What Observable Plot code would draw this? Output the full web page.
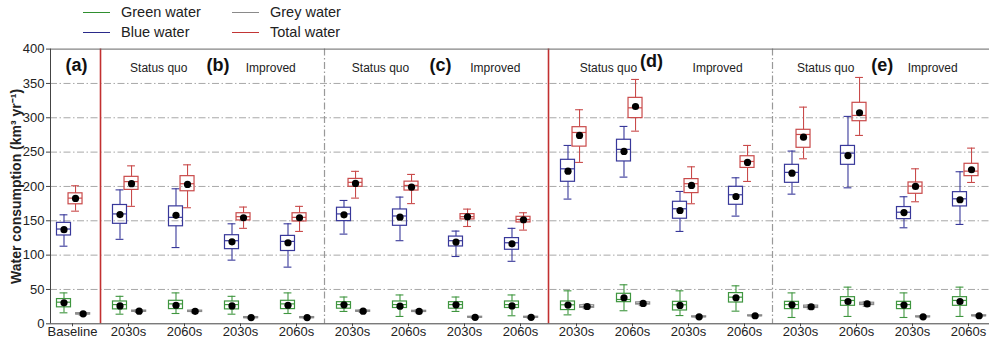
<!DOCTYPE html>
<html>
<head>
<meta charset="utf-8">
<script src="https://cdn.jsdelivr.net/npm/d3@7"></script>
<script src="https://cdn.jsdelivr.net/npm/@observablehq/plot@0.6"></script>
<style>
  body { margin: 0; background: #fff; font-family: "Liberation Sans", Arial, sans-serif; }
  #legend { position: relative; width: 989px; height: 40px; }
  .item { position: absolute; display: flex; align-items: center; height: 20px; font-size: 14.5px; color: #222; }
  .item .sw { width: 27px; height: 0; border-top: 1.5px solid; margin-right: 11px; }
  #chart svg { display: block; }
</style>
</head>
<body>
<div id="legend"></div>
<div id="chart"></div>
<script>
// Period labels along the x axis (baseline + 4 scenario panels)
const periods = ["Baseline",
  "2030s", "2060s", "2030s", "2060s",
  "2030s", "2060s", "2030s", "2060s",
  "2030s", "2060s", "2030s", "2060s",
  "2030s", "2060s", "2030s", "2060s"];

const panelTags = ["(a)", "(b)", "(c)", "(d)", "(e)"];
const scenarios = ["Status quo", "Improved"];
const yTicks = [0, 50, 100, 150, 200, 250, 300, 350, 400];

// Box statistics per period: [whisker low, Q1, median, Q3, whisker high, mean] (km3/yr)
const greenWater = [
  [16, 24, 31.5, 36, 45, 30.6],
  [14, 21, 28, 32.5, 40, 26],
  [15, 21.4, 29, 33.5, 45, 27],
  [14, 21, 28, 32.5, 40, 26],
  [15, 21.4, 29, 33.5, 45, 27],
  [18, 22, 28, 31.5, 39, 27.7],
  [10.7, 23, 28, 32.5, 42, 25.7],
  [18, 22, 28, 31.5, 39, 27.7],
  [11.7, 23, 28, 32.5, 42, 26],
  [13, 20, 27.7, 32.5, 48, 27.2],
  [19, 31.5, 35.4, 43.7, 56.8, 37.9],
  [12, 19.4, 27.7, 32, 48, 26.7],
  [18.4, 31, 38.8, 44.7, 55.3, 37.9],
  [9.2, 21.4, 28, 32, 45, 27.7],
  [10.7, 26.2, 34, 38.8, 53.4, 32.5],
  [9.2, 21.4, 28, 32, 45, 27.2],
  [10.7, 26.2, 34, 38.8, 53.4, 32.5]
];

const blueWater = [
  [113, 128.6, 138, 147, 158.7, 137],
  [123, 145.6, 160, 173, 195, 159],
  [111, 142, 155, 171, 196.6, 158],
  [92.7, 108.7, 121, 129, 145.6, 119.4],
  [82.5, 106, 120, 128, 145.6, 118],
  [130.6, 149.5, 160, 169, 179.6, 158.7],
  [121, 142.7, 157, 166.5, 184.5, 155.3],
  [98, 112.6, 121, 127, 135, 119],
  [91, 107.8, 118, 124.8, 139, 116.5],
  [181.6, 206.8, 225.7, 238.8, 259.7, 222.3],
  [213.6, 236.4, 254, 268, 287.4, 251],
  [134.5, 153, 167.5, 177.7, 192.7, 165],
  [156.8, 173.3, 187.9, 199.5, 212.6, 185.4],
  [188.8, 205.3, 220.5, 231.5, 251.5, 219.4],
  [198, 231.5, 248.5, 259, 302, 245],
  [139.8, 152.4, 162.5, 170, 185, 162],
  [144.7, 170.9, 182, 191.7, 221.4, 180.6]
];

const greyWater = [
  [12.5, 13.5, 14.5, 15.5, 16.5, 14.5],
  [16.5, 17.5, 18.4, 19.3, 20.5, 18.4],
  [16, 17.2, 18.2, 19.2, 20.5, 18.2],
  [7.5, 8.2, 9, 9.8, 10.5, 9],
  [7.5, 8.2, 9, 9.8, 10.5, 9],
  [16.5, 17.5, 18.4, 19.3, 20.5, 18.4],
  [16, 17.2, 18, 19, 20.3, 18],
  [8, 8.8, 9.5, 10.3, 11, 9.5],
  [8, 8.8, 9.5, 10.3, 11, 9.5],
  [22, 23.3, 25.2, 27, 28.5, 25.2],
  [26.5, 28, 29.6, 31.2, 32.5, 29.6],
  [8.8, 9.5, 10.2, 10.9, 11.6, 10.2],
  [10.2, 11, 11.7, 12.4, 13.2, 11.7],
  [21.5, 23, 24.8, 26.5, 28, 24.8],
  [25.5, 27.3, 29, 30.7, 32.5, 29],
  [8.8, 9.5, 10.2, 10.9, 11.6, 10.2],
  [10.2, 11, 11.7, 12.4, 13.2, 11.7]
];

const totalWater = [
  [164, 174, 183, 190, 201, 182.5],
  [171, 195, 207, 214, 230, 204],
  [169, 193, 204, 215, 231.5, 203],
  [139, 150.5, 156, 161, 170, 154.4],
  [134.5, 149, 155, 161, 171, 154.4],
  [183, 199.5, 206, 211, 222, 204.4],
  [175, 194, 201.5, 207, 217.5, 199],
  [141.7, 152, 156, 159.7, 167, 155.8],
  [136.4, 147.6, 152, 155.8, 161.7, 151.5],
  [235, 258, 278.6, 286.3, 311.7, 274.3],
  [280.5, 299.5, 314.5, 329, 355.8, 316.4],
  [174.8, 190.3, 204, 210.7, 228.6, 201.5],
  [207.3, 227, 236.4, 244, 259.7, 235],
  [240.3, 256.3, 275.7, 282.5, 315.5, 271.8],
  [274.3, 295, 303.4, 321.8, 358.7, 307.3],
  [177.7, 189.3, 200.5, 205.8, 225.7, 200],
  [205.8, 215, 222.3, 233, 255.8, 224.3]
];

// Series styling and horizontal offset of each box from its period tick
const series = [
  {name: "Green water", stats: greenWater, color: "#3f963f", legend: "#2f8f2f", off: -0.152},
  {name: "Blue water",  stats: blueWater,  color: "#38389a", legend: "#2a2a8a", off: -0.152},
  {name: "Grey water",  stats: greyWater,  color: "#8a8a8a", legend: "#8a8a8a", off: 0.19},
  {name: "Total water", stats: totalWater, color: "#c94a4a", legend: "#c23535", off: 0.054}
];

// Legend: two columns (green/blue, grey/total)
const legendPos = [[83, 2], [83, 22], [232, 2], [232, 22]];
const legend = document.getElementById("legend");
series.forEach((s, k) => {
  const it = document.createElement("div");
  it.className = "item";
  it.style.left = legendPos[k][0] + "px";
  it.style.top = legendPos[k][1] + "px";
  const sw = document.createElement("span");
  sw.className = "sw";
  sw.style.borderTopColor = s.legend;
  it.appendChild(sw);
  it.appendChild(document.createTextNode(s.name));
  legend.appendChild(it);
});

const rows = [];
series.forEach(s => s.stats.forEach((st, i) => rows.push({
  name: s.name, color: s.color, x: i + s.off,
  lo: st[0], q1: st[1], med: st[2], q3: st[3], hi: st[4], mean: st[5]
})));

const boxHalf = 0.125, capHalf = 0.07;
const xMin = -0.393, xMax = 16.375;

// Panel annotations (x in period units, y in chart units)
const tagX = [0.07, 2.6, 6.57, 10.34, 14.46];
const tagY = [376, 376, 376, 382, 376];
const tags = panelTags.map((t, k) => ({t, x: tagX[k], y: tagY[k]}));
const scenX = [[1.54, 3.54], [5.5, 7.55], [9.57, 11.52], [13.45, 15.36]];
const scenLabels = [];
scenX.forEach(pair => pair.forEach((x, j) => scenLabels.push({t: scenarios[j], x, y: 372.5})));

const dashDot = "7,2.5,1.5,2.5";

const chart = Plot.plot({
  width: 989,
  height: 302,
  marginLeft: 50,
  marginRight: 0,
  marginTop: 8.6,
  marginBottom: 18.7,
  style: {fontFamily: "'Liberation Sans', Arial, sans-serif", fontSize: "13px", color: "#222", background: "#fff"},
  x: {type: "linear", domain: [xMin, xMax], label: null},
  y: {domain: [0, 400], label: null},
  color: {type: "identity"},
  marks: [
    Plot.ruleY(yTicks.filter(v => v > 0 && v < 400), {stroke: "#a8a8a8", strokeWidth: 1, strokeDasharray: dashDot}),
    Plot.ruleX([4.5, 12.5], {stroke: "#999", strokeWidth: 1.2, strokeDasharray: dashDot}),
    Plot.ruleX([0.5, 8.5], {stroke: "#c23030", strokeWidth: 1.6}),
    // whiskers
    Plot.ruleX(rows, {x: "x", y1: "lo", y2: "q1", stroke: "color", strokeWidth: 1.1}),
    Plot.ruleX(rows, {x: "x", y1: "q3", y2: "hi", stroke: "color", strokeWidth: 1.1}),
    Plot.ruleY(rows, {y: "lo", x1: d => d.x - capHalf, x2: d => d.x + capHalf, stroke: "color", strokeWidth: 1.1}),
    Plot.ruleY(rows, {y: "hi", x1: d => d.x - capHalf, x2: d => d.x + capHalf, stroke: "color", strokeWidth: 1.1}),
    // boxes and medians
    Plot.rect(rows, {x1: d => d.x - boxHalf, x2: d => d.x + boxHalf, y1: "q1", y2: "q3", stroke: "color", fill: "none", strokeWidth: 1.2}),
    Plot.ruleY(rows, {y: "med", x1: d => d.x - boxHalf, x2: d => d.x + boxHalf, stroke: "color", strokeWidth: 1.2}),
    // means
    Plot.dot(rows, {x: "x", y: "mean", r: 3.6, fill: "#000", stroke: null}),
    // frame lines
    Plot.ruleY([400], {stroke: "#666", strokeWidth: 1}),
    Plot.ruleY([0], {stroke: "#444", strokeWidth: 1}),
    Plot.ruleX([xMin], {stroke: "#444", strokeWidth: 1}),
    // axes
    Plot.axisY({ticks: yTicks, tickSize: 4, tickPadding: 2, fontSize: 13, label: null, stroke: "#444"}),
    Plot.axisX({ticks: d3.range(periods.length), tickFormat: i => periods[i], tickSize: 3, tickPadding: 0, fontSize: 13, label: null, stroke: "#444"}),
    Plot.text(["Water consumption (km³ yr⁻¹)"], {frameAnchor: "left", textAnchor: "middle", rotate: -90, dx: -34, fontSize: 14, fontWeight: "bold", fill: "#222"}),
    // panel annotations
    Plot.text(tags, {x: "x", y: "y", text: "t", fontSize: 18, fontWeight: "bold", fill: "#111"}),
    Plot.text(scenLabels, {x: "x", y: "y", text: "t", fontSize: 12, fill: "#222"})
  ]
});
document.getElementById("chart").appendChild(chart);
</script>
</body>
</html>
